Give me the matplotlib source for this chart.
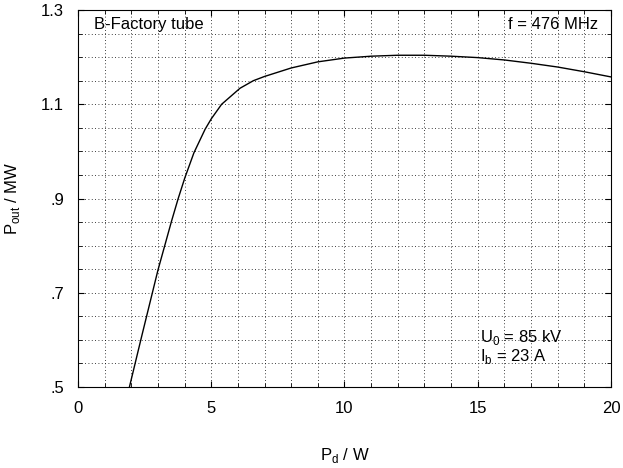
import numpy as np
import matplotlib.pyplot as plt
from matplotlib.ticker import MultipleLocator, FuncFormatter

plt.rcParams['font.family'] = ['Liberation Sans', 'DejaVu Sans']

# drive power P_d (W) and output power P_out (MW)
p_drive = [1.93, 2.4, 3.0, 3.51, 3.76, 4.01, 4.35, 4.77, 5.0, 5.39, 6.08, 6.58, 7.0,
           8.0, 9.0, 10.0, 11.0, 12.0, 13.0, 14.0, 15.0, 16.0, 17.0, 18.0, 19.0, 20.0]
p_out = [0.5, 0.61, 0.748, 0.852, 0.9, 0.944, 0.997, 1.047, 1.069, 1.1, 1.134, 1.15, 1.159,
         1.177, 1.19, 1.198, 1.202, 1.204, 1.204, 1.202, 1.199, 1.194, 1.187, 1.179, 1.169, 1.158]

xticks = [0, 5, 10, 15, 20]
yticks = [0.5, 0.7, 0.9, 1.1, 1.3]

fig = plt.figure(figsize=(6.23, 4.68), dpi=100)
ax = fig.add_axes([0.1252, 0.1731, 0.8555, 0.8055])

ax.plot(p_drive, p_out, color='black', lw=1.0)

ax.set_xlim(0, 20)
ax.set_ylim(0.5, 1.3)
ax.set_xticks(xticks)
ax.set_yticks(yticks)
ax.xaxis.set_minor_locator(MultipleLocator(1))
ax.yaxis.set_minor_locator(MultipleLocator(0.05))

def yfmt(v, pos):
    s = '%.1f' % v
    return s[1:] if s.startswith('0') else s

ax.yaxis.set_major_formatter(FuncFormatter(yfmt))
ax.tick_params(which='both', direction='in', top=True, right=True, labelsize=12)
ax.tick_params(which='major', length=4, pad=10)
ax.tick_params(which='minor', length=3)
ax.grid(which='both', color='black', linestyle=(0, (1, 3)), linewidth=0.6)

ax.set_xlabel('P$_\\mathregular{d}$ / W', fontsize=12, labelpad=22)
ax.set_ylabel('P$_\\mathregular{out}$ / MW', fontsize=12, labelpad=14)

ax.text(0.6, 1.285, 'B-Factory tube', fontsize=12, va='top', ha='left')
ax.text(19.5, 1.285, 'f = 476 MHz', fontsize=12, va='top', ha='right')
ax.text(15.1, 0.605, 'U$_\\mathregular{0}$ = 85 kV', fontsize=12, va='center', ha='left')
ax.text(15.1, 0.565, 'I$_\\mathregular{b}$ = 23 A', fontsize=12, va='center', ha='left')

fig.savefig('out.png', dpi=100)
